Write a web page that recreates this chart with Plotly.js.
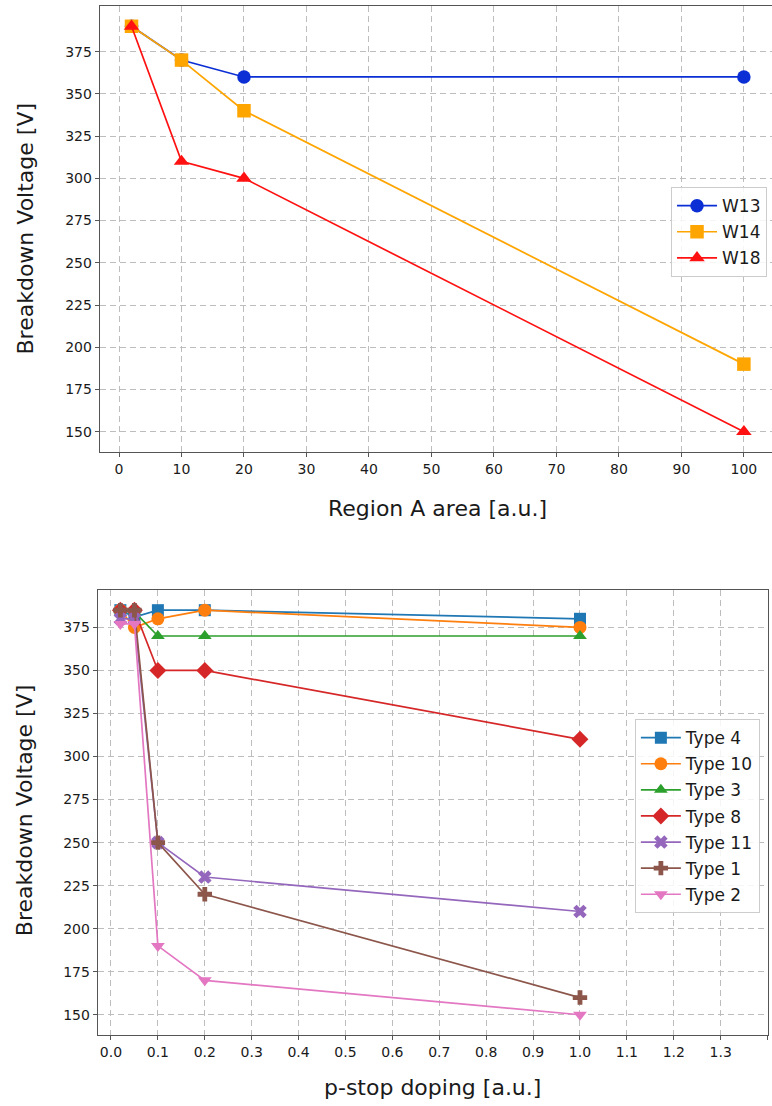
<!DOCTYPE html>
<html>
<head>
<meta charset="utf-8">
<script src="https://cdn.plot.ly/plotly-3.0.1.min.js"></script>
<style>html,body{margin:0;padding:0;background:#fff;}#chart{width:772px;height:1106px;}</style>
</head>
<body>
<div id="chart"></div>
<script>
// ---- Top chart data ----
const areaX = [2, 10, 20, 100];
const topNames = ["W13", "W14", "W18"];
const w13 = [390, 370, 360, 360];
const w14 = [390, 370, 340, 190];
const w18 = [390, 310, 300, 150];

// ---- Bottom chart data ----
const dopingX = [0.02, 0.05, 0.1, 0.2, 1.0];
const typeNames = ["Type 4", "Type 10", "Type 3", "Type 8", "Type 11", "Type 1", "Type 2"];
const type4  = [385, 381, 385, 385, 380];
const type10 = [385, 375, 380, 385, 375];
const type3  = [385, 384, 370, 370, 370];
const type8  = [385, 385, 350, 350, 310];
const type11 = [380, 380, 250, 230, 210];
const type1  = [385, 385, 250, 220, 160];
const type2  = [377, 377, 190, 170, 150];

const yTicks = [150, 175, 200, 225, 250, 275, 300, 325, 350, 375];
const topXTicks = [0, 10, 20, 30, 40, 50, 60, 70, 80, 90, 100];
const botXTicks = [0.0, 0.1, 0.2, 0.3, 0.4, 0.5, 0.6, 0.7, 0.8, 0.9, 1.0, 1.1, 1.2, 1.3, 1.4];
const botXTickText = ["0.0","0.1","0.2","0.3","0.4","0.5","0.6","0.7","0.8","0.9","1.0","1.1","1.2","1.3","1.4"];

const FONT = "DejaVu Sans, Liberation Sans, sans-serif";
const TXT = "#1a1a1a";

const topSeries = [w13, w14, w18];
const topColors = ["#0b2fd4", "#ffa500", "#ff1111"];
const topSymbols = ["circle", "square", "triangle-up"];

const botSeries = [type4, type10, type3, type8, type11, type1, type2];
const botColors = ["#1f77b4", "#ff7f0e", "#2ca02c", "#d62728", "#9467bd", "#8c564b", "#e377c2"];
const botSymbols = ["square", "circle", "triangle-up", "diamond", "x", "cross", "triangle-down"];
const botSizes = [12, 13, 12, 13, 12, 12, 12];

const traces = [];
topSeries.forEach((s, i) => {
  traces.push({
    x: areaX, y: s, name: topNames[i], type: "scatter", mode: "lines+markers",
    xaxis: "x", yaxis: "y", legend: "legend", legendgroup: "t" + i,
    line: {color: topColors[i], width: 1.7},
    marker: {color: topColors[i], symbol: topSymbols[i], size: 13.5, line: {width: 0}}
  });
});
botSeries.forEach((s, i) => {
  traces.push({
    x: dopingX, y: s, name: typeNames[i], type: "scatter", mode: "lines+markers",
    xaxis: "x2", yaxis: "y2", legend: "legend2", legendgroup: "b" + i,
    line: {color: botColors[i], width: 1.7},
    marker: {color: botColors[i], symbol: botSymbols[i], size: botSizes[i], line: {width: 0}}
  });
});

const gridCommon = {
  showgrid: true, gridcolor: "#bdbdbd", gridwidth: 1, griddash: "6px,4px",
  zeroline: false, showline: true, linecolor: "#555", linewidth: 1.3,
  ticks: "outside", ticklen: 4, tickcolor: "#555", tickwidth: 1,
  tickfont: {family: FONT, size: 14, color: TXT}
};

const layout = {
  width: 772, height: 1106,
  margin: {l: 98, r: 0, t: 6, b: 71},
  paper_bgcolor: "#fff", plot_bgcolor: "#fff",
  showlegend: true,
  hovermode: false,
  font: {family: FONT, color: TXT},
  xaxis: Object.assign({}, gridCommon, {
    domain: [0.003, 1], anchor: "y", range: [-3.04, 104.5],
    tickmode: "array", tickvals: topXTicks, mirror: true
  }),
  yaxis: Object.assign({}, gridCommon, {
    domain: [0.5666, 1], anchor: "x", range: [138, 402],
    tickmode: "array", tickvals: yTicks, mirror: false
  }),
  xaxis2: Object.assign({}, gridCommon, {
    domain: [0, 0.994], anchor: "y2", range: [-0.0277, 1.4008],
    tickmode: "array", tickvals: botXTicks, ticktext: botXTickText, mirror: true
  }),
  yaxis2: Object.assign({}, gridCommon, {
    domain: [0, 0.4325], anchor: "x2", range: [138.25, 396.75],
    tickmode: "array", tickvals: yTicks, mirror: true
  }),
  legend: {
    x: 0.9926, y: 0.824, xanchor: "right", yanchor: "top",
    bgcolor: "rgba(255,255,255,0.85)", bordercolor: "#cccccc", borderwidth: 1,
    font: {family: FONT, size: 17, color: TXT},
    traceorder: "grouped", tracegroupgap: 1, itemwidth: 40
  },
  legend2: {
    x: 0.982, y: 0.307, xanchor: "right", yanchor: "top",
    bgcolor: "rgba(255,255,255,0.85)", bordercolor: "#cccccc", borderwidth: 1,
    font: {family: FONT, size: 17, color: TXT},
    traceorder: "grouped", tracegroupgap: 1, itemwidth: 40
  },
  annotations: [
    {text: "Breakdown Voltage [V]", xref: "paper", yref: "paper", x: -0.108, y: 0.784,
     xanchor: "center", yanchor: "middle", textangle: -90, showarrow: false,
     font: {family: FONT, size: 22, color: TXT}},
    {text: "Region A area [a.u.]", xref: "paper", yref: "paper", x: 0.503, y: 0.512,
     xanchor: "center", yanchor: "middle", showarrow: false,
     font: {family: FONT, size: 22, color: TXT}},
    {text: "Breakdown Voltage [V]", xref: "paper", yref: "paper", x: -0.108, y: 0.2187,
     xanchor: "center", yanchor: "middle", textangle: -90, showarrow: false,
     font: {family: FONT, size: 22, color: TXT}},
    {text: "p-stop doping [a.u.]", xref: "paper", yref: "paper", x: 0.497, y: -0.0515,
     xanchor: "center", yanchor: "middle", showarrow: false,
     font: {family: FONT, size: 22, color: TXT}}
  ]
};

Plotly.newPlot("chart", traces, layout, {displayModeBar: false, staticPlot: true});
</script>
</body>
</html>
